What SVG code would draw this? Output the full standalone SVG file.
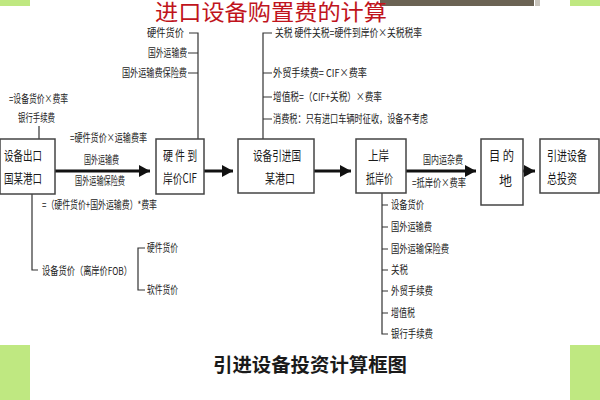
<svg xmlns="http://www.w3.org/2000/svg" width="600" height="400" viewBox="0 0 600 400">
<style>
  .s{font-family:"Noto Sans CJK SC","Liberation Sans",sans-serif;font-size:11px;fill:#222}
  .b{font-family:"Noto Sans CJK SC","Liberation Sans",sans-serif;font-size:13px;fill:#1a1a1a}
  .box{fill:#fff;stroke:#444;stroke-width:1.5}
  .ln{fill:none;stroke:#333;stroke-width:1.2}
  .ar{fill:none;stroke:#111;stroke-width:3}
</style>
<defs>
  <marker id="ah" markerUnits="userSpaceOnUse" markerWidth="12" markerHeight="12" refX="11" refY="6" orient="auto">
    <path d="M0,0 L11,6 L0,12 z" fill="#111"/>
  </marker>
</defs>
<rect width="600" height="400" fill="#fff"/>
<g id="decor">
  <rect x="0" y="0" width="30" height="6" fill="#bfe881"/>
  <rect x="570" y="0" width="30" height="6" fill="#bfe881"/>
  <rect x="0" y="345" width="30" height="55" fill="#bfe881"/>
  <rect x="570" y="345" width="30" height="55" fill="#bfe881"/>
  <rect x="380" y="0" width="154" height="6" fill="#6b6354"/>
  <rect x="535" y="0" width="5" height="6" fill="#c8c4bc"/>
</g>
<text x="271" y="20" text-anchor="middle" font-family="'Noto Sans CJK SC',sans-serif" font-size="22" fill="#c0141c" textLength="232" lengthAdjust="spacingAndGlyphs">进口设备购置费的计算</text>

<g id="connectors">
  <line class="ar" x1="55" y1="171" x2="150" y2="171" marker-end="url(#ah)"/>
  <line class="ar" x1="204" y1="171" x2="233" y2="171" marker-end="url(#ah)"/>
  <line class="ar" x1="314" y1="171" x2="351" y2="171" marker-end="url(#ah)"/>
  <line class="ar" x1="406" y1="171" x2="476" y2="171" marker-end="url(#ah)"/>
  <line class="ar" x1="523" y1="171" x2="535" y2="171" marker-end="url(#ah)"/>
  <path class="ln" d="M189,33 H198 V139 M188,53 H198 M188,73 H198"/>
  <path class="ln" d="M39,126 V139"/>
  <path class="ln" d="M32,194 V270 H38"/>
  <path class="ln" d="M145,248 H138 V290 H145"/>
  <path class="ln" d="M272,33 H263 V139 M263,73 H272 M263,97 H272 M263,119 H272"/>
  <path class="ln" d="M382,193 V334 H388 M382,205 H388 M382,227 H388 M382,249 H388 M382,270 H388 M382,291 H388 M382,313 H388"/>
</g>

<g id="n1"><rect class="box" x="0" y="139" width="55" height="55"/>
  <text class="b" x="4" y="160" textLength="38" lengthAdjust="spacingAndGlyphs">设备出口</text>
  <text class="b" x="4" y="183" textLength="38" lengthAdjust="spacingAndGlyphs">国某港口</text></g>
<g id="n2"><rect class="box" x="156" y="139" width="48" height="55"/>
  <text class="b" x="163" y="160" textLength="34" lengthAdjust="spacingAndGlyphs">硬 件 到</text>
  <text class="b" x="163" y="183" textLength="34" lengthAdjust="spacingAndGlyphs">岸价CIF</text></g>
<g id="n3"><rect class="box" x="238" y="139" width="76" height="54"/>
  <text class="b" x="253" y="160" textLength="48" lengthAdjust="spacingAndGlyphs">设备引进国</text>
  <text class="b" x="265" y="183" textLength="30" lengthAdjust="spacingAndGlyphs">某港口</text></g>
<g id="n4"><rect class="box" x="356" y="139" width="50" height="54"/>
  <text class="b" x="368" y="160" textLength="21" lengthAdjust="spacingAndGlyphs">上岸</text>
  <text class="b" x="366" y="183" textLength="27" lengthAdjust="spacingAndGlyphs">抵岸价</text></g>
<g id="n5"><rect class="box" x="481" y="139" width="42" height="66"/>
  <text class="b" x="489" y="160" textLength="25" lengthAdjust="spacingAndGlyphs">目  的</text>
  <text class="b" x="499" y="185">地</text></g>
<g id="n6"><rect class="box" x="540" y="139" width="59" height="54"/>
  <text class="b" x="547" y="160" textLength="40" lengthAdjust="spacingAndGlyphs">引进设备</text>
  <text class="b" x="547" y="183" textLength="30" lengthAdjust="spacingAndGlyphs">总投资</text></g>

<g id="labels-left">
  <text class="s" x="147" y="37" textLength="37" lengthAdjust="spacingAndGlyphs">硬件货价</text>
  <text class="s" x="148" y="57" textLength="39" lengthAdjust="spacingAndGlyphs">国外运输费</text>
  <text class="s" x="122" y="77" textLength="65" lengthAdjust="spacingAndGlyphs">国外运输费保险费</text>
  <text class="s" x="9" y="103" textLength="59" lengthAdjust="spacingAndGlyphs">=设备货价×费率</text>
  <text class="s" x="18" y="122" textLength="37" lengthAdjust="spacingAndGlyphs">银行手续费</text>
  <text class="s" x="70" y="142" textLength="77" lengthAdjust="spacingAndGlyphs">=硬件货价×运输费率</text>
  <text class="s" x="84" y="164" textLength="35" lengthAdjust="spacingAndGlyphs">国外运输费</text>
  <text class="s" x="75" y="185" textLength="50" lengthAdjust="spacingAndGlyphs">国外运输保险费</text>
  <text class="s" x="42" y="209" textLength="115" lengthAdjust="spacingAndGlyphs">=（硬件货价+国外运输费）*费率</text>
  <text class="s" x="42" y="275" textLength="90" lengthAdjust="spacingAndGlyphs">设备货价（离岸价FOB）</text>
  <text class="s" x="147" y="252" textLength="31" lengthAdjust="spacingAndGlyphs">硬件货价</text>
  <text class="s" x="147" y="294" textLength="31" lengthAdjust="spacingAndGlyphs">软件货价</text>
</g>
<g id="labels-mid">
  <text class="s" x="275" y="37" textLength="147" lengthAdjust="spacingAndGlyphs">关税  硬件关税=硬件到岸价×关税税率</text>
  <text class="s" x="273" y="77" textLength="94" lengthAdjust="spacingAndGlyphs">外贸手续费=  CIF×费率</text>
  <text class="s" x="273" y="101" textLength="109" lengthAdjust="spacingAndGlyphs">增值税=（CIF+关税）×费率</text>
  <text class="s" x="273" y="123" textLength="155" lengthAdjust="spacingAndGlyphs">消费税：只有进口车辆时征收，设备不考虑</text>
  <text class="s" x="423" y="164" textLength="40" lengthAdjust="spacingAndGlyphs">国内运杂费</text>
  <text class="s" x="412" y="187" textLength="54" lengthAdjust="spacingAndGlyphs">=抵岸价×费率</text>
</g>
<g id="labels-right">
  <text class="s" x="391" y="209" textLength="33" lengthAdjust="spacingAndGlyphs">设备货价</text>
  <text class="s" x="391" y="231" textLength="41" lengthAdjust="spacingAndGlyphs">国外运输费</text>
  <text class="s" x="391" y="253" textLength="58" lengthAdjust="spacingAndGlyphs">国外运输保险费</text>
  <text class="s" x="391" y="274" textLength="17" lengthAdjust="spacingAndGlyphs">关税</text>
  <text class="s" x="391" y="295" textLength="42" lengthAdjust="spacingAndGlyphs">外贸手续费</text>
  <text class="s" x="391" y="317" textLength="24" lengthAdjust="spacingAndGlyphs">增值税</text>
  <text class="s" x="391" y="338" textLength="42" lengthAdjust="spacingAndGlyphs">银行手续费</text>
</g>
<text x="213" y="372" font-family="'Noto Sans CJK SC',sans-serif" font-size="19" font-weight="bold" fill="#1a1a1a" textLength="194" lengthAdjust="spacingAndGlyphs">引进设备投资计算框图</text>
</svg>
